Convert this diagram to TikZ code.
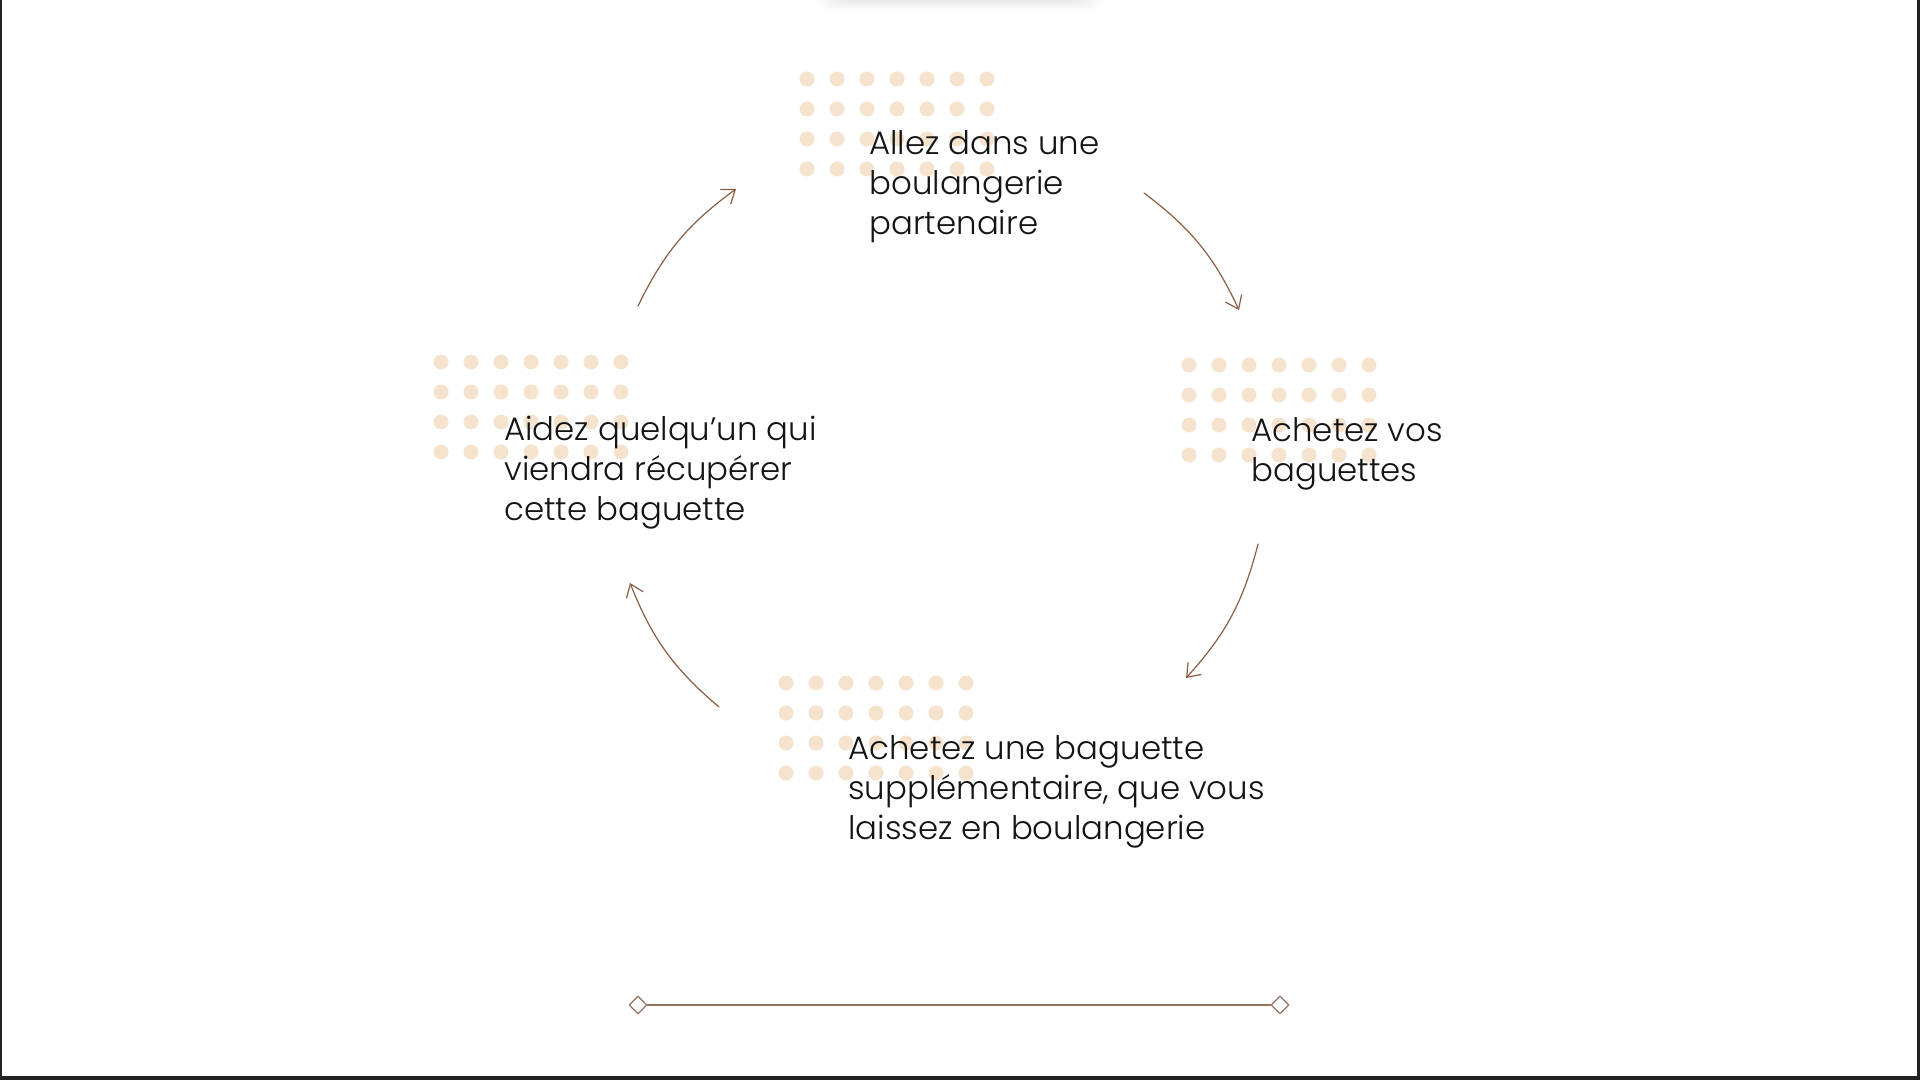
\documentclass[tikz,border=0pt]{standalone}
\usepackage{fontspec}
\setmainfont{Poppins}[UprightFont={* Light}]
\usetikzlibrary{arrows.meta,shapes.geometric}
\definecolor{dotpeach}{RGB}{246,227,206}
\definecolor{arrowbrown}{RGB}{139,94,66}
\definecolor{linebrown}{RGB}{150,116,96}
\definecolor{textblack}{RGB}{20,20,20}
\definecolor{frame}{RGB}{34,34,34}
\begin{document}
\begin{tikzpicture}[x=0.5pt, y=-0.5pt, line join=round, line cap=round,
    steptext/.style={anchor=north west, inner sep=0pt, align=left, text=textblack,
      font=\fontsize{16.2}{20}\selectfont},
    cyclearrow/.style={draw=arrowbrown, line width=0.6pt,
      -{Straight Barb[length=6pt,width=9pt]}, bend left=14},
    endmark/.style={diamond, draw=linebrown, fill=white, line width=0.6pt,
      inner sep=0pt, minimum size=9pt}]
  % page and frame
  \fill[white] (0,0) rectangle (1920,1080);
  \useasboundingbox (0,0) rectangle (1920,1080);
  \foreach \k in {0,...,5}
    \fill[black, opacity=0.015, rounded corners=8pt] (815+4*\k,-20) rectangle (1105-4*\k,10-2*\k);
  \fill[frame] (0,0) rectangle (2,1080);
  \fill[frame] (1917,0) rectangle (1920,1080);
  \fill[frame] (0,1076) rectangle (1920,1080);
  % dot grids behind the steps
  \foreach \gx/\gy in {807/79, 441/362, 1189/365, 786/683}
    \foreach \i in {0,...,6}
      \foreach \j in {0,...,3}
        \fill[dotpeach] (\gx+30*\i,\gy+30*\j) circle (7.5);
  % steps
  \node[steptext] (visit) at (869,130.5) {Allez dans une\\boulangerie\\partenaire};
  \node[steptext] (buy) at (1251,417.5) {Achetez vos\\baguettes};
  \node[steptext] (extra) at (848,735.5) {Achetez une baguette\\supplémentaire, que vous\\laissez en boulangerie};
  \node[steptext] (help) at (504,415.5) {Aidez quelqu’un qui\\viendra récupérer\\cette baguette};
  % cycle arrows
  \coordinate (a1s) at (1144,193); \coordinate (a1e) at (1239,310);
  \coordinate (a2s) at (1258,544); \coordinate (a2e) at (1186,678);
  \coordinate (a3s) at (719,707);  \coordinate (a3e) at (630,583);
  \coordinate (a4s) at (638,306);  \coordinate (a4e) at (736,189);
  \draw[cyclearrow] (a1s) to (a1e);
  \draw[cyclearrow] (a2s) to (a2e);
  \draw[cyclearrow] (a3s) to (a3e);
  \draw[cyclearrow] (a4s) to (a4e);
  % bottom rule
  \node[endmark] (dl) at (638,1005) {};
  \node[endmark] (dr) at (1280,1005) {};
  \draw[linebrown, line width=0.75pt] (dl) -- (dr);
\end{tikzpicture}
\end{document}
